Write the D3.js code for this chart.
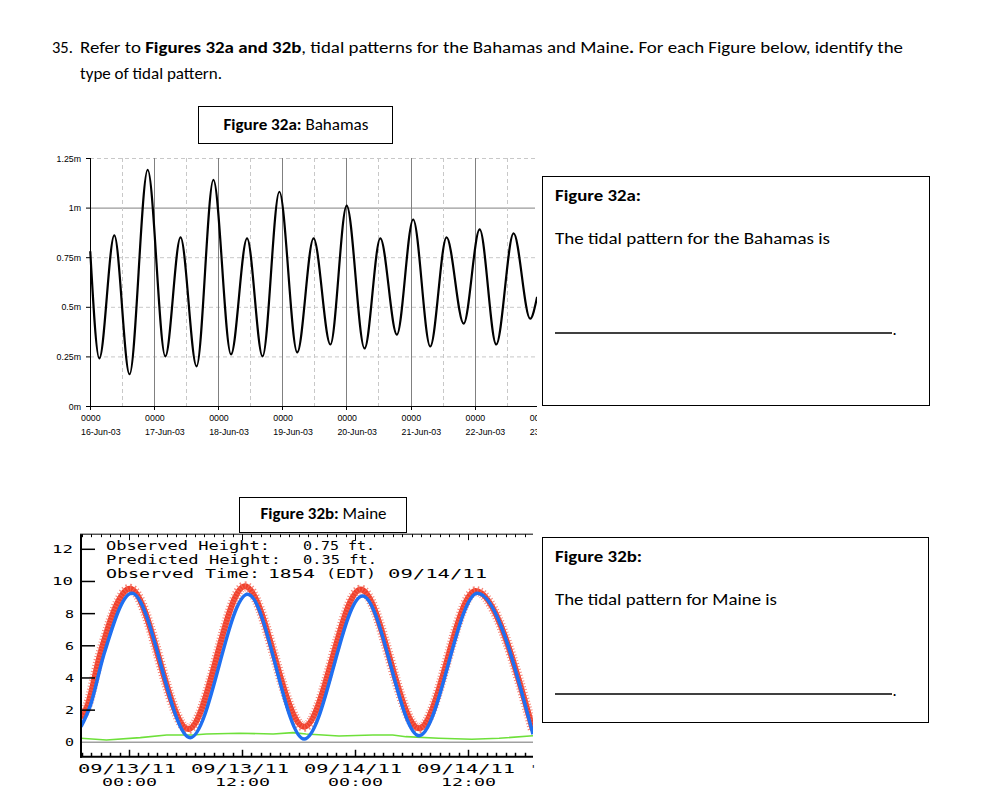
<!DOCTYPE html>
<html lang="en">
<head>
<meta charset="UTF-8">
<title>Tidal patterns: Bahamas and Maine</title>
<style>
  html, body { margin: 0; padding: 0; background: #fff; }
  svg { display: block; }
  .doc { font-family: Carlito, Lato, sans-serif; font-size: 16.5px; fill: #000; }
  .bold { font-weight: bold; }
  .ms { font-family: "Liberation Sans", Arial, sans-serif; font-size: 8.8px; fill: #000; }
  .px { font-family: "DejaVu Sans Mono", monospace; fill: #000; }
</style>
</head>
<body>
<svg width="988" height="810"></svg>
<script src="https://d3js.org/d3.v7.min.js"></script>
<script>
// ---- Figure 32a: Bahamas (hours after 16-Jun-03 0000, level in metres), turning points
const bahamasHours = [0.1, 3.5, 9.1, 14.8, 21.6, 28.2, 33.9, 39.9, 46.2, 52.8, 58.8, 64.6, 70.9, 77.6,
                      83.7, 90.0, 96.1, 102.8, 108.7, 114.9, 121.0, 127.4, 133.5, 139.9, 145.9, 152.1,
                      158.6, 164.8, 167.4];
const bahamasLevel = [0.78, 0.24, 0.86, 0.16, 1.19, 0.25, 0.85, 0.20, 1.14, 0.26, 0.845, 0.25, 1.08, 0.27,
                      0.845, 0.31, 1.01, 0.29, 0.845, 0.36, 0.94, 0.30, 0.85, 0.415, 0.89, 0.31,
                      0.87, 0.44, 0.55];
const bahamasDays = ["16-Jun-03", "17-Jun-03", "18-Jun-03", "19-Jun-03", "20-Jun-03", "21-Jun-03", "22-Jun-03", "23-Jun-03"];
const bahamasYTicks = [0, 0.25, 0.5, 0.75, 1, 1.25];
const bahamasYLabels = ["0m", "0.25m", "0.5m", "0.75m", "1m", "1.25m"];

// ---- Figure 32b: Maine (hours after 09/13/11 00:00, height in feet)
const predHours = [-5.1, -4.1, -2.7, 0.3, 6.5, 12.6, 18.6, 24.8, 30.8, 37.0, 42.9];
const predFeet  = [0.97, 2.3, 5.4, 9.27, 0.29, 9.2, 0.2, 9.1, 0.41, 9.27, 0.5];
const obsHours  = [-5.1, -4.4, -3.1, 0.1, 6.3, 12.3, 18.6, 24.6, 30.8, 36.8, 42.9];
const obsFeet   = [1.5, 2.3, 5.4, 9.55, 0.83, 9.7, 0.97, 9.5, 0.87, 9.4, 0.76];
const residHours = [-5.1, -2.4, 1.2, 4.0, 6.8, 8.2, 11.7, 15.3, 17.4, 18.8, 20.6, 22.3, 25.9, 28.0,
                    29.4, 32.9, 36.4, 39.3, 42.9];
const residFeet  = [0.25, 0.14, 0.29, 0.45, 0.45, 0.52, 0.56, 0.52, 0.60, 0.52, 0.45, 0.39, 0.45, 0.45,
                    0.35, 0.25, 0.19, 0.25, 0.41];
const maineYTicks = [0, 2, 4, 6, 8, 10, 12];
const maineXLabels = [["09/13/11", "00:00"], ["09/13/11", "12:00"], ["09/14/11", "00:00"], ["09/14/11", "12:00"]];

const svg = d3.select("svg");

// ---------- worksheet text ----------
svg.append("text").attr("class", "doc").attr("x", 52).attr("y", 53).text("35.");
const l1 = svg.append("text").attr("class", "doc").attr("x", 80).attr("y", 53)
    .attr("textLength", 823).attr("lengthAdjust", "spacingAndGlyphs");
l1.append("tspan").text("Refer to ");
l1.append("tspan").attr("class", "bold").text("Figures 32a and 32b");
l1.append("tspan").text(", tidal patterns for the Bahamas and Maine");
l1.append("tspan").attr("class", "bold").text(".");
l1.append("tspan").text(" For each Figure below, identify the");
svg.append("text").attr("class", "doc").attr("x", 80).attr("y", 79)
    .attr("textLength", 142).attr("lengthAdjust", "spacingAndGlyphs").text("type of tidal pattern.");

function titleBox(x0, y0, x1, y1, bold, rest, len) {
  svg.append("rect").attr("x", x0 + 0.5).attr("y", y0 + 0.5).attr("width", x1 - x0).attr("height", y1 - y0)
      .attr("fill", "#fff").attr("stroke", "#000").attr("stroke-width", 1);
  const t = svg.append("text").attr("class", "doc").attr("x", (x0 + x1) / 2 + 1).attr("y", y1 - 13)
      .attr("text-anchor", "middle").attr("textLength", len).attr("lengthAdjust", "spacingAndGlyphs");
  t.append("tspan").attr("class", "bold").text(bold);
  t.append("tspan").text(rest);
}

function answerBox(x0, y0, x1, y1, head, line, lineLen, headLen) {
  svg.append("rect").attr("x", x0 + 0.5).attr("y", y0 + 0.5).attr("width", x1 - x0).attr("height", y1 - y0)
      .attr("fill", "none").attr("stroke", "#000").attr("stroke-width", 1);
  svg.append("text").attr("class", "doc bold").attr("x", 555).attr("y", y0 + 25)
      .attr("textLength", headLen).attr("lengthAdjust", "spacingAndGlyphs").text(head);
  svg.append("text").attr("class", "doc").attr("x", 555).attr("y", y0 + 68)
      .attr("textLength", lineLen).attr("lengthAdjust", "spacingAndGlyphs").text(line);
  svg.append("line").attr("x1", 555).attr("x2", 892).attr("y1", y0 + 157).attr("y2", y0 + 157)
      .attr("stroke", "#000").attr("stroke-width", 1.3);
  svg.append("text").attr("class", "doc").attr("x", 892.5).attr("y", y0 + 159).text(".");
}

// ---------- Figure 32a ----------
const day0 = new Date(2003, 5, 16);
const xA = d3.scaleTime().domain([day0, d3.timeDay.offset(day0, 7)]).range([90, 538.7]);
const yA = d3.scaleLinear().domain([0, 1.25]).range([406, 158]);

svg.append("clipPath").attr("id", "clipA").append("rect")
    .attr("x", 0).attr("y", 150).attr("width", 537).attr("height", 300);
const gA = svg.append("g").attr("clip-path", "url(#clipA)");

const days = bahamasDays.map((d, i) => d3.timeDay.offset(day0, i));
const noons = days.map(d => d3.timeHour.offset(d, 12));

// horizontal grid
gA.selectAll(".hgrid").data(bahamasYTicks.filter(v => v > 0)).enter().append("line")
    .attr("x1", 90).attr("x2", 535).attr("y1", d => yA(d) + 0.5).attr("y2", d => yA(d) + 0.5)
    .attr("stroke", d => d === 1 ? "#808080" : "#c8c8c8")
    .attr("stroke-dasharray", d => d === 1 ? null : "4,3");
// vertical grid
gA.selectAll(".noon").data(noons).enter().append("line")
    .attr("x1", d => Math.round(xA(d)) + 0.5).attr("x2", d => Math.round(xA(d)) + 0.5)
    .attr("y1", 158).attr("y2", 406)
    .attr("stroke", "#c8c8c8").attr("stroke-dasharray", "4,3");
gA.selectAll(".day").data(days.slice(1)).enter().append("line")
    .attr("x1", d => Math.round(xA(d)) + 0.5).attr("x2", d => Math.round(xA(d)) + 0.5)
    .attr("y1", 158).attr("y2", 406)
    .attr("stroke", "#808080");

// tide line
const lineA = d3.line()
    .x((d, i) => xA(d3.timeMinute.offset(day0, Math.round(bahamasHours[i] * 60))))
    .y(d => yA(d))
    .curve(d3.curveMonotoneX);
gA.append("path").datum(bahamasLevel).attr("d", lineA)
    .attr("fill", "none").attr("stroke", "#000").attr("stroke-width", 2.2);

// axes
gA.append("line").attr("x1", 90.5).attr("x2", 90.5).attr("y1", 158).attr("y2", 406.5).attr("stroke", "#000");
gA.append("line").attr("x1", 90).attr("x2", 537).attr("y1", 406.5).attr("y2", 406.5).attr("stroke", "#000");
gA.selectAll(".yt").data(bahamasYTicks).enter().append("line")
    .attr("x1", 86).attr("x2", 90).attr("y1", d => yA(d) + 0.5).attr("y2", d => yA(d) + 0.5).attr("stroke", "#000");
gA.selectAll(".ylab").data(bahamasYTicks).enter().append("text")
    .attr("class", "ms").attr("x", 81).attr("y", d => yA(d) + 3.5)
    .attr("text-anchor", "end").text((d, i) => bahamasYLabels[i]);
gA.selectAll(".xt").data(days).enter().append("line")
    .attr("x1", d => Math.round(xA(d)) + 0.5).attr("x2", d => Math.round(xA(d)) + 0.5)
    .attr("y1", 406).attr("y2", 410).attr("stroke", "#000");
// labels are left-aligned a little before each day line
gA.selectAll(".xlab1").data(days).enter().append("text")
    .attr("class", "ms").attr("x", d => xA(d) - 9).attr("y", 420.5)
    .text("0000");
gA.selectAll(".xlab2").data(days).enter().append("text")
    .attr("class", "ms").attr("x", d => xA(d) - 9).attr("y", 434.5)
    .text((d, i) => bahamasDays[i]);

titleBox(198, 106, 392, 143, "Figure 32a:", " Bahamas", 145);
answerBox(542, 176, 929, 405, "Figure 32a:", "The tidal pattern for the Bahamas is", 275, 86);

// ---------- Figure 32b ----------
const base = new Date(2011, 8, 13, 0, 0);
const hrs = h => d3.timeMinute.offset(base, Math.round(h * 60));
const xB = d3.scaleTime().domain([hrs(-5.1), hrs(42.9)]).range([81, 533]);
const yB = d3.scaleLinear().domain([0, 12]).range([742.3, 549.3]);
const topB = yB(12.94), botB = yB(-0.9);

svg.append("clipPath").attr("id", "clipB").append("rect")
    .attr("x", 81).attr("y", topB).attr("width", 452).attr("height", botB - topB);
const gB = svg.append("g");
const plotB = gB.append("g").attr("clip-path", "url(#clipB)");

plotB.append("line").attr("x1", 81).attr("x2", 533).attr("y1", yB(0)).attr("y2", yB(0))
    .attr("stroke", "#a0a0a0").attr("stroke-width", 1.5);

const lineB = (hours) => d3.line()
    .x((d, i) => xB(hrs(hours[i])))
    .y(d => yB(d));

plotB.append("path").datum(obsFeet).attr("d", lineB(obsHours).curve(d3.curveMonotoneX))
    .attr("fill", "none").attr("stroke", "#f0402c").attr("stroke-width", 6);
plotB.append("path").datum(obsFeet).attr("d", lineB(obsHours).curve(d3.curveMonotoneX))
    .attr("fill", "none").attr("stroke", "#f26a5a").attr("stroke-width", 10)
    .attr("stroke-dasharray", "1,2").attr("opacity", 0.8);
plotB.append("path").datum(residFeet).attr("d", lineB(residHours))
    .attr("fill", "none").attr("stroke", "#6ee03a").attr("stroke-width", 1.6);
plotB.append("path").datum(predFeet).attr("d", lineB(predHours).curve(d3.curveMonotoneX))
    .attr("fill", "none").attr("stroke", "#1f6ff0").attr("stroke-width", 3.5);

// frame
gB.append("line").attr("x1", 81).attr("x2", 81).attr("y1", topB).attr("y2", botB + 1)
    .attr("stroke", "#000").attr("stroke-width", 2);
gB.append("line").attr("x1", 80).attr("x2", 533).attr("y1", botB).attr("y2", botB)
    .attr("stroke", "#000").attr("stroke-width", 2);
gB.append("line").attr("x1", 80).attr("x2", 533).attr("y1", topB).attr("y2", topB)
    .attr("stroke", "#000").attr("stroke-width", 1);

// hourly ticks top and bottom
const hourTicks = xB.ticks(d3.timeHour.every(1));
const major = d => d.getHours() % 12 === 0;
gB.selectAll(".bt").data(hourTicks).enter().append("line")
    .attr("x1", d => Math.round(xB(d)) + 0.5).attr("x2", d => Math.round(xB(d)) + 0.5)
    .attr("y1", botB).attr("y2", d => botB - (major(d) ? 7 : 4))
    .attr("stroke", "#000").attr("stroke-width", 1.5);
gB.selectAll(".tt").data(hourTicks).enter().append("line")
    .attr("x1", d => Math.round(xB(d)) + 0.5).attr("x2", d => Math.round(xB(d)) + 0.5)
    .attr("y1", topB).attr("y2", d => topB + (major(d) ? 6 : 3))
    .attr("stroke", "#000").attr("stroke-width", 1);

// y ticks and labels
gB.selectAll(".ytb").data(maineYTicks.filter(v => v > 0)).enter().append("line")
    .attr("x1", 82).attr("x2", 95).attr("y1", d => yB(d)).attr("y2", d => yB(d))
    .attr("stroke", "#000").attr("stroke-width", 1.5);
gB.selectAll(".ylb").data(maineYTicks).enter().append("text")
    .attr("class", "px").attr("font-size", 11)
    .attr("x", d => d >= 10 ? 52 : 65).attr("y", d => yB(d) + 4)
    .attr("textLength", d => d >= 10 ? 21 : 9).attr("lengthAdjust", "spacingAndGlyphs")
    .text(d => d);

// x labels
const labelTimes = maineXLabels.map((d, i) => hrs(i * 12));
gB.selectAll(".xd").data(labelTimes).enter().append("text")
    .attr("class", "px").attr("font-size", 12)
    .attr("x", d => xB(d) - 51).attr("y", 773)
    .attr("textLength", 98).attr("lengthAdjust", "spacingAndGlyphs")
    .text((d, i) => maineXLabels[i][0]);
gB.selectAll(".xh").data(labelTimes).enter().append("text")
    .attr("class", "px").attr("font-size", 11)
    .attr("x", d => xB(d) - 27).attr("y", 786)
    .attr("textLength", 55).attr("lengthAdjust", "spacingAndGlyphs")
    .text((d, i) => maineXLabels[i][1]);
// cropped start of the next label at the right edge
gB.append("text").attr("class", "px").attr("font-size", 11)
    .attr("x", 530).attr("y", 773).text("'");

// info readout
const info = [
  ["Observed Height:", 106, 550, 164], ["0.75 ft.", 303, 550, 72],
  ["Predicted Height:", 106, 563.5, 175], ["0.35 ft.", 303, 563.5, 74],
  ["Observed Time:", 106, 577.5, 154], ["1854", 268, 577.5, 47],
  ["(EDT)", 326, 577.5, 50], ["09/14/11", 388, 577.5, 99]
];
gB.selectAll(".info").data(info).enter().append("text")
    .attr("class", "px").attr("font-size", 12)
    .attr("x", d => d[1]).attr("y", d => d[2])
    .attr("textLength", d => d[3]).attr("lengthAdjust", "spacingAndGlyphs")
    .text(d => d[0]);

titleBox(239, 497, 406, 532, "Figure 32b:", " Maine", 126);
answerBox(542, 537, 928, 722, "Figure 32b:", "The tidal pattern for Maine is", 222, 87);
</script>
</body>
</html>
